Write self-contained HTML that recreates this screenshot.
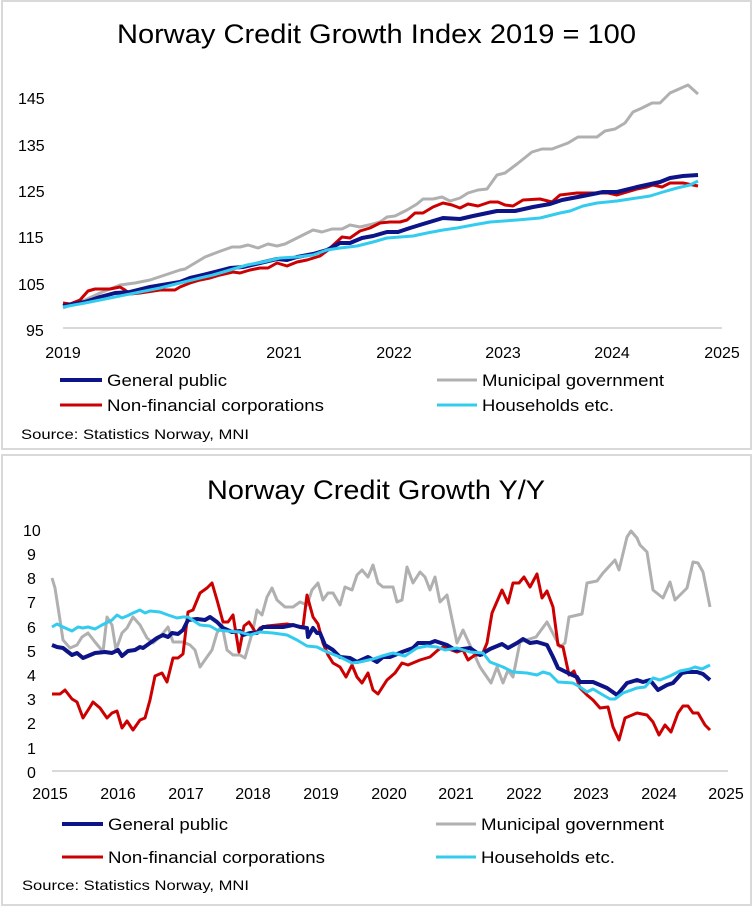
<!DOCTYPE html>
<html><head><meta charset="utf-8"><style>
body{margin:0;background:#fff;}
svg{display:block;font-family:"Liberation Sans",sans-serif;}
</style></head><body>
<svg width="753" height="907" viewBox="0 0 753 907" xmlns="http://www.w3.org/2000/svg">
<rect x="2" y="1" width="749" height="448" fill="#fff" stroke="#d9d9d9" stroke-width="2"/>
<rect x="2" y="455" width="749" height="450" fill="#fff" stroke="#d9d9d9" stroke-width="2"/>

<!-- TOP -->
<text x="117" y="43" font-size="27" fill="#000" textLength="519" lengthAdjust="spacingAndGlyphs">Norway Credit Growth Index 2019 = 100</text>
<g font-size="16" fill="#000">
<text x="18" y="104">145</text><text x="18" y="151">135</text><text x="18" y="197">125</text>
<text x="18" y="243">115</text><text x="18" y="290">105</text><text x="26" y="336">95</text>
</g>
<line x1="63" y1="328" x2="722" y2="328" stroke="#d9d9d9" stroke-width="2"/>
<g font-size="16" fill="#000" text-anchor="middle">
<text x="63" y="358">2019</text><text x="173" y="358">2020</text><text x="284" y="358">2021</text>
<text x="394" y="358">2022</text><text x="503" y="358">2023</text><text x="612" y="358">2024</text><text x="722" y="358">2025</text>
</g>
<g fill="none" stroke-linejoin="round">
<polyline stroke="#b0b0b0" stroke-width="3" points="63,308 85,300 100,293 120,285 135,283 150,280 165,275 180,270 185,269 195,263 205,257 218,252 232,247 240,247 248,245 258,248 268,244 277,246 285,244 297,238 305,234 313,230 322,232 332,229 342,229 350,225 360,227 373,224 380,222 387,217 395,216 407,210 417,204 423,199 433,199 442,197 450,201 460,198 468,193 478,190 487,189 497,175 505,173 517,164 532,152 542,149 552,149 568,143 578,137 597,137 605,131 615,129 625,123 633,112 642,108 652,103 660,103 670,93 688,85 698,94"/>
<polyline stroke="#cc0000" stroke-width="3" points="63,303 70,304 80,300 88,291 95,289 110,289 120,287 125,290 130,294 140,293 160,290 175,290 180,287 190,283 200,280 210,278 220,275 233,272 240,273 250,270 260,268 268,268 277,263 287,266 297,262 307,260 320,256 328,250 342,237 350,238 360,231 370,228 380,223 390,222 400,222 407,220 415,213 423,213 433,207 443,203 452,205 460,208 468,204 478,206 490,202 498,202 505,205 513,206 523,200 540,199 552,202 560,195 577,193 597,193 608,193 617,195 627,192 637,189 647,187 653,185 662,187 670,183 683,183 698,186"/>
<polyline stroke="#0c1487" stroke-width="4" points="63,306 85,302 100,297 115,293 130,292 150,287 180,282 190,278 203,275 215,272 230,268 243,267 260,263 277,259 287,260 297,257 313,254 327,250 340,243 350,243 362,238 373,236 387,232 398,232 410,228 423,224 433,221 443,218 460,219 473,216 497,211 515,211 533,207 550,204 562,200 583,196 603,192 617,192 637,187 660,182 670,178 683,176 698,175"/>
<polyline stroke="#33ccee" stroke-width="3" points="63,307 85,303 110,298 140,292 160,288 180,283 200,278 213,275 230,270 247,265 263,262 280,258 297,257 313,255 327,250 340,248 357,246 373,242 387,238 400,237 413,236 427,233 443,230 457,228 473,225 490,222 517,220 540,218 560,213 570,211 583,206 597,203 607,202 617,201 630,199 650,196 663,192 677,188 690,185 698,181"/>
</g>
<g font-size="17" fill="#000" lengthAdjust="spacingAndGlyphs">
<line x1="60" y1="380" x2="102" y2="380" stroke="#0c1487" stroke-width="4"/><text x="107" y="386" textLength="120" lengthAdjust="spacingAndGlyphs">General public</text>
<line x1="60" y1="405" x2="102" y2="405" stroke="#cc0000" stroke-width="3"/><text x="107" y="411" textLength="217" lengthAdjust="spacingAndGlyphs">Non-financial corporations</text>
<line x1="437" y1="380" x2="477" y2="380" stroke="#b0b0b0" stroke-width="3"/><text x="482" y="386" textLength="182" lengthAdjust="spacingAndGlyphs">Municipal government</text>
<line x1="437" y1="405" x2="477" y2="405" stroke="#33ccee" stroke-width="3"/><text x="482" y="411" textLength="132" lengthAdjust="spacingAndGlyphs">Households etc.</text>
<text x="21" y="439" font-size="14" textLength="228" lengthAdjust="spacingAndGlyphs">Source: Statistics Norway, MNI</text>
</g>

<!-- BOTTOM -->
<text x="207" y="499" font-size="27" fill="#000" textLength="338" lengthAdjust="spacingAndGlyphs">Norway Credit Growth Y/Y</text>
<g font-size="16" fill="#000">
<text x="23" y="536">10</text><text x="27" y="560">9</text><text x="27" y="584">8</text><text x="27" y="608">7</text>
<text x="27" y="633">6</text><text x="27" y="657">5</text><text x="27" y="681">4</text><text x="27" y="705">3</text>
<text x="27" y="729">2</text><text x="27" y="754">1</text><text x="27" y="778">0</text>
</g>
<line x1="52" y1="771" x2="728" y2="771" stroke="#d9d9d9" stroke-width="2"/>
<g font-size="16" fill="#000" text-anchor="middle">
<text x="50" y="799">2015</text><text x="118" y="799">2016</text><text x="186" y="799">2017</text><text x="253" y="799">2018</text>
<text x="321" y="799">2019</text><text x="389" y="799">2020</text><text x="456" y="799">2021</text><text x="524" y="799">2022</text>
<text x="591" y="799">2023</text><text x="659" y="799">2024</text><text x="726" y="799">2025</text>
</g>
<g fill="none" stroke-linejoin="round">
<polyline stroke="#b0b0b0" stroke-width="3" points="52,578 55,588 60,620 63,640 70,648 77,645 82,637 88,633 95,642 100,648 103,652 107,617 112,625 116,650 122,633 127,628 133,617 140,625 147,638 153,643 160,637 168,627 173,642 183,642 190,645 195,650 200,667 207,657 212,650 217,633 222,625 227,650 233,655 240,655 245,658 253,630 257,610 262,615 267,597 272,588 277,600 285,607 293,607 300,602 307,605 312,590 318,583 323,600 328,593 333,593 340,605 345,587 352,590 357,575 362,570 368,577 373,565 378,583 383,587 390,587 393,587 397,602 402,600 407,567 413,583 420,572 425,577 430,590 435,577 440,602 447,595 457,643 463,630 480,667 491,683 497,667 503,683 508,670 513,677 520,642 536,637 547,622 560,647 565,643 569,617 582,614 587,583 597,581 603,573 615,560 619,570 627,537 631,531 637,538 640,545 647,552 653,590 663,598 670,582 675,600 687,588 693,562 698,563 703,572 710,607"/>
<polyline stroke="#cc0000" stroke-width="3" points="52,694 60,694 65,690 72,699 77,702 83,718 90,707 93,702 100,708 107,718 112,713 117,711 122,728 127,721 133,730 140,720 145,718 150,700 155,676 162,673 167,682 173,658 178,658 183,654 188,612 193,610 200,593 207,588 212,583 217,600 223,622 228,622 233,615 239,652 244,626 249,622 256,633 260,628 267,626 277,625 287,624 297,626 303,627 307,595 313,617 318,624 323,643 328,655 333,663 340,667 346,677 352,665 357,677 362,683 368,673 373,690 378,694 387,680 395,673 402,663 408,665 420,660 430,657 438,650 443,647 457,652 463,650 468,660 475,655 482,655 487,643 492,613 502,590 508,603 513,583 519,583 524,577 530,587 537,574 542,598 547,591 553,607 558,645 563,647 569,675 574,671 580,688 587,695 593,700 600,708 608,707 613,727 619,740 625,718 637,713 647,715 653,722 659,735 665,725 671,732 678,713 683,706 688,706 693,713 698,713 705,725 710,730"/>
<polyline stroke="#0c1487" stroke-width="4" points="52,645 57,647 63,648 72,655 77,653 83,658 95,653 105,652 112,653 118,650 122,656 128,651 135,650 140,647 143,648 150,643 157,638 163,635 168,637 172,633 178,634 183,630 188,620 197,619 205,620 210,617 217,622 223,628 232,632 240,631 243,635 250,633 257,633 263,627 273,627 283,627 293,625 300,627 307,628 308,637 313,628 317,633 320,633 325,645 333,650 340,657 350,658 357,662 368,657 377,662 383,657 390,657 402,652 413,648 418,643 430,643 435,641 447,645 455,650 470,648 480,655 490,649 502,644 508,648 517,643 523,639 530,643 537,642 547,645 553,657 558,668 568,673 577,677 580,682 593,682 607,688 617,695 627,683 637,680 643,682 650,680 658,690 667,685 673,683 682,673 687,672 697,672 703,674 710,680"/>
<polyline stroke="#33ccee" stroke-width="3" points="52,627 57,624 63,627 72,631 78,627 83,628 88,627 95,629 102,625 112,620 117,615 122,618 127,616 133,613 140,610 145,613 150,611 160,612 168,615 177,618 183,617 188,617 200,625 210,626 217,630 227,631 240,632 250,635 260,632 273,633 287,635 297,640 307,646 317,647 327,652 340,657 352,663 360,662 373,659 382,656 393,653 405,656 417,648 427,646 437,647 445,650 457,648 470,652 483,653 490,662 503,667 513,672 527,673 537,675 543,672 550,674 558,682 573,683 580,687 587,692 593,689 603,695 610,699 615,699 623,693 637,688 645,687 653,678 660,680 670,676 680,671 690,669 695,667 702,669 710,665"/>
</g>
<g font-size="17" fill="#000">
<line x1="62" y1="824" x2="103" y2="824" stroke="#0c1487" stroke-width="4"/><text x="108" y="830" textLength="120" lengthAdjust="spacingAndGlyphs">General public</text>
<line x1="62" y1="857" x2="103" y2="857" stroke="#cc0000" stroke-width="3"/><text x="108" y="863" textLength="217" lengthAdjust="spacingAndGlyphs">Non-financial corporations</text>
<line x1="436" y1="824" x2="476" y2="824" stroke="#b0b0b0" stroke-width="3"/><text x="481" y="830" textLength="183" lengthAdjust="spacingAndGlyphs">Municipal government</text>
<line x1="436" y1="857" x2="476" y2="857" stroke="#33ccee" stroke-width="3"/><text x="481" y="863" textLength="134" lengthAdjust="spacingAndGlyphs">Households etc.</text>
<text x="22" y="890" font-size="14" textLength="227" lengthAdjust="spacingAndGlyphs">Source: Statistics Norway, MNI</text>
</g>
</svg>
</body></html>
